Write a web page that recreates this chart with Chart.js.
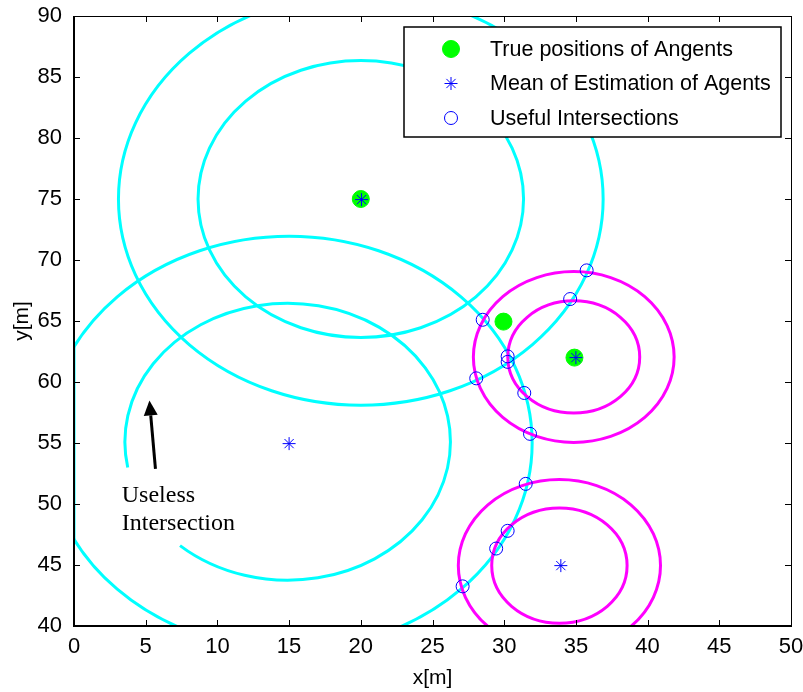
<!DOCTYPE html>
<html>
<head>
<meta charset="utf-8">
<script src="https://cdn.jsdelivr.net/npm/chart.js@4.4.1/dist/chart.umd.min.js"></script>
<style>
html, body { margin: 0; padding: 0; background: #fff; }
#wrap { width: 803px; height: 692px; }
</style>
</head>
<body>
<div id="wrap"><canvas id="positionsChart" width="803" height="692"></canvas></div>
<script>
// axis ticks
var xTickValues = [0, 5, 10, 15, 20, 25, 30, 35, 40, 45, 50];
var yTickValues = [40, 45, 50, 55, 60, 65, 70, 75, 80, 85, 90];

// true positions of agents
var trueX = [20, 29.95, 34.9];
var trueY = [75, 64.95, 62];

// mean of estimation of agents
var estX = [20.05, 15.0, 35.0, 33.95];
var estY = [74.95, 54.95, 62.0, 44.95];

// useful intersections
var interX = [35.75, 34.6, 28.5, 30.24, 30.24, 28.05, 31.4, 31.8, 31.5, 30.24, 29.44, 27.1];
var interY = [69.15, 66.8, 65.1, 62.1, 61.65, 60.3, 59.1, 55.75, 51.65, 47.8, 46.35, 43.25];

// range circles (centre, radius, optional gap in degrees)
var cyanCx = [20, 20, 14.9, 15];
var cyanCy = [75, 75, 55.1, 55];
var cyanR = [16.9, 11.35, 11.35, 16.95];
var cyanGapFrom = [null, null, 190.7, null];
var cyanGapTo = [null, null, 228.6, null];

var magentaCx = [34.85, 34.85, 33.85, 33.85];
var magentaCy = [62.05, 62.05, 44.95, 44.95];
var magentaR = [7.0, 4.6, 7.05, 4.72];

// annotation
var noteLines = ['Useless', 'Intersection'];
var noteAt = [3.33, 50.2];
var arrowFrom = [5.68, 52.87];
var arrowTo = [5.26, 58.48];

var sansFont = "'Liberation Sans', Arial, Helvetica, sans-serif";
var serifFont = "'Liberation Serif', 'Times New Roman', serif";

function drawCircles(c, xs, ys, cx, cy, r, gapFrom, gapTo, color) {
    c.strokeStyle = color;
    for (var i = 0; i < cx.length; i++) {
        var px = xs.getPixelForValue(cx[i]);
        var py = ys.getPixelForValue(cy[i]);
        var rx = Math.abs(xs.getPixelForValue(cx[i] + r[i]) - px);
        var ry = Math.abs(ys.getPixelForValue(cy[i] + r[i]) - py);
        c.beginPath();
        if (gapFrom && gapFrom[i] != null) {
            c.ellipse(px, py, rx, ry, 0, -gapFrom[i] * Math.PI / 180, -gapTo[i] * Math.PI / 180, false);
        } else {
            c.ellipse(px, py, rx, ry, 0, 0, Math.PI * 2);
        }
        c.stroke();
        // the part left of the axis shows up squashed onto it
        var dx = cx[i] - xs.min;
        if (dx < r[i]) {
            var dy = Math.sqrt(r[i] * r[i] - dx * dx);
            c.beginPath();
            c.moveTo(xs.getPixelForValue(xs.min), ys.getPixelForValue(cy[i] + dy));
            c.lineTo(xs.getPixelForValue(xs.min), ys.getPixelForValue(cy[i] - dy));
            c.stroke();
        }
    }
}

var rangeCircles = {
    id: 'rangeCircles',
    beforeDatasetsDraw: function (chart) {
        var c = chart.ctx, a = chart.chartArea;
        c.save();
        c.beginPath();
        c.rect(a.left, a.top, a.right - a.left, a.bottom - a.top);
        c.clip();
        c.lineWidth = 3;
        c.lineJoin = 'round';
        drawCircles(c, chart.scales.x, chart.scales.y, cyanCx, cyanCy, cyanR, cyanGapFrom, cyanGapTo, '#00ffff');
        drawCircles(c, chart.scales.x, chart.scales.y, magentaCx, magentaCy, magentaR, null, null, '#ff00ff');
        c.restore();
    }
};

function drawMarker(c, ds, x, y) {
    var r = ds.pointRadius;
    c.save();
    c.lineWidth = ds.borderWidth;
    c.strokeStyle = ds.borderColor;
    c.fillStyle = ds.backgroundColor;
    c.beginPath();
    if (ds.pointStyle === 'star') {
        c.moveTo(x - r, y); c.lineTo(x + r, y);
        c.moveTo(x, y - r); c.lineTo(x, y + r);
        var d = r * 0.7071;
        c.moveTo(x - d, y - d); c.lineTo(x + d, y + d);
        c.moveTo(x - d, y + d); c.lineTo(x + d, y - d);
        c.stroke();
    } else {
        c.arc(x, y, r, 0, Math.PI * 2);
        c.fill();
        c.stroke();
    }
    c.restore();
}

var frameAndNotes = {
    id: 'frameAndNotes',
    afterDraw: function (chart) {
        var c = chart.ctx, a = chart.chartArea;
        var xs = chart.scales.x, ys = chart.scales.y;
        c.save();

        // annotation arrow and text
        var x0 = xs.getPixelForValue(arrowFrom[0]), y0 = ys.getPixelForValue(arrowFrom[1]);
        var x1 = xs.getPixelForValue(arrowTo[0]), y1 = ys.getPixelForValue(arrowTo[1]);
        var ang = Math.atan2(y1 - y0, x1 - x0);
        var headLen = 15, headW = 7;
        var bx = x1 - headLen * Math.cos(ang), by = y1 - headLen * Math.sin(ang);
        c.strokeStyle = '#000';
        c.fillStyle = '#000';
        c.lineWidth = 3;
        c.beginPath(); c.moveTo(x0, y0); c.lineTo(bx, by); c.stroke();
        c.beginPath();
        c.moveTo(x1, y1);
        c.lineTo(bx + headW * Math.sin(ang), by - headW * Math.cos(ang));
        c.lineTo(bx - headW * Math.sin(ang), by + headW * Math.cos(ang));
        c.closePath(); c.fill();

        c.font = '24px ' + serifFont;
        c.textAlign = 'left';
        c.textBaseline = 'alphabetic';
        var tx = xs.getPixelForValue(noteAt[0]), ty = ys.getPixelForValue(noteAt[1]);
        noteLines.forEach(function (t, i) { c.fillText(t, tx, ty + i * 28); });

        // axes box with inward ticks
        c.strokeStyle = '#000';
        c.lineWidth = 1;
        xs.ticks.forEach(function (t) {
            var px = Math.round(xs.getPixelForValue(t.value)) + 0.5;
            c.beginPath();
            c.moveTo(px, a.bottom); c.lineTo(px, a.bottom - 6);
            c.moveTo(px, a.top); c.lineTo(px, a.top + 6);
            c.stroke();
        });
        ys.ticks.forEach(function (t) {
            var py = Math.round(ys.getPixelForValue(t.value)) + 0.5;
            c.beginPath();
            c.moveTo(a.left, py); c.lineTo(a.left + 6, py);
            c.moveTo(a.right, py); c.lineTo(a.right - 6, py);
            c.stroke();
        });
        c.strokeRect(a.left + 0.5, a.top + 0.5, a.right - a.left, a.bottom - a.top);
        c.lineWidth = 2;
        c.beginPath();
        c.moveTo(a.left, a.top); c.lineTo(a.left, a.bottom); c.lineTo(a.right, a.bottom);
        c.stroke();

        // legend box
        var lw = 377, lh = 110;
        var lx = a.right - 10 - lw, ly = a.top + 11;
        c.fillStyle = '#fff';
        c.fillRect(lx, ly, lw, lh);
        c.lineWidth = 1.5;
        c.strokeStyle = '#000';
        c.strokeRect(lx, ly, lw, lh);
        c.font = '21.5px ' + sansFont;
        c.textBaseline = 'middle';
        chart.data.datasets.forEach(function (ds, i) {
            var rowY = ly + 22 + i * 34.5;
            drawMarker(c, ds, lx + 47, rowY);
            c.fillStyle = '#000';
            c.fillText(ds.label, lx + 86, rowY + 1);
        });
        c.restore();
    }
};

function toPoints(xv, yv) {
    return xv.map(function (v, i) { return { x: v, y: yv[i] }; });
}

function noOverhang(scale) {
    scale.paddingTop = 0;
    scale.paddingBottom = 0;
    scale.paddingLeft = 0;
    scale.paddingRight = 0;
}

var ctx = document.getElementById('positionsChart').getContext('2d');
var positionsChart = new Chart(ctx, {
    type: 'scatter',
    data: {
        datasets: [{
            label: 'True positions of Angents',
            data: toPoints(trueX, trueY),
            pointStyle: 'circle',
            pointRadius: 8.5,
            backgroundColor: '#00ff00',
            borderColor: '#00ff00',
            borderWidth: 1,
            order: 3
        }, {
            label: 'Mean of Estimation of Agents',
            data: toPoints(estX, estY),
            pointStyle: 'star',
            pointRadius: 6.5,
            backgroundColor: '#0000ff',
            borderColor: '#0000ff',
            borderWidth: 1,
            order: 1
        }, {
            label: 'Useful Intersections',
            data: toPoints(interX, interY),
            pointStyle: 'circle',
            pointRadius: 6.5,
            backgroundColor: 'rgba(0,0,0,0)',
            borderColor: '#0000ff',
            borderWidth: 1,
            order: 2
        }]
    },
    options: {
        responsive: false,
        animation: false,
        events: [],
        layout: { padding: { top: 16, right: 12, left: 0, bottom: 0 } },
        plugins: {
            legend: { display: false },
            tooltip: { enabled: false }
        },
        scales: {
            x: {
                type: 'linear',
                min: 0,
                max: 50,
                afterBuildTicks: function (scale) {
                    scale.ticks = xTickValues.map(function (v) { return { value: v }; });
                },
                afterFit: function (scale) { scale.height = 66; noOverhang(scale); },
                grid: { display: false, drawTicks: false },
                border: { display: false },
                ticks: {
                    padding: 8,
                    color: '#000',
                    font: { family: sansFont, size: 22 }
                },
                title: {
                    display: true,
                    text: 'x[m]',
                    color: '#000',
                    padding: { top: 0, bottom: 1.5 },
                    font: { family: sansFont, size: 21 }
                }
            },
            y: {
                type: 'linear',
                min: 40,
                max: 90,
                afterBuildTicks: function (scale) {
                    scale.ticks = yTickValues.map(function (v) { return { value: v }; });
                },
                afterFit: function (scale) { scale.width = 74; noOverhang(scale); },
                grid: { display: false, drawTicks: false },
                border: { display: false },
                ticks: {
                    padding: 12,
                    color: '#000',
                    font: { family: sansFont, size: 22 }
                },
                title: {
                    display: true,
                    text: 'y[m]',
                    color: '#000',
                    padding: { top: 9.5, bottom: 0 },
                    font: { family: sansFont, size: 21 }
                }
            }
        }
    },
    plugins: [rangeCircles, frameAndNotes]
});
</script>
</body>
</html>
